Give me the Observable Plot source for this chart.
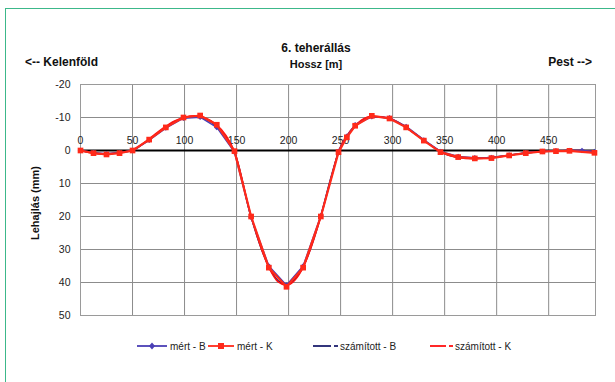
<!DOCTYPE html>
<html><head><meta charset="utf-8">
<script src="https://cdn.jsdelivr.net/npm/d3@7"></script>
<script src="https://cdn.jsdelivr.net/npm/@observablehq/plot@0.6"></script>
<style>
body{margin:0;background:#fff;}
#wrap{position:relative;width:615px;height:382px;overflow:hidden;}
#border{position:absolute;left:5px;top:8px;width:620px;height:390px;border-left:1.5px solid #3cb88a;border-top:1.5px solid #3cb88a;}
svg{font-family:"Liberation Sans",Arial,sans-serif;}
</style></head>
<body><div id="wrap"><div id="border"></div><div id="chart" style="position:absolute;left:0;top:0"></div></div>
<script>
const title = "6. teherállás";
const xTitle = "Hossz [m]";
const leftLabel = "<-- Kelenföld";
const rightLabel = "Pest -->";
const yTitle = "Lehajlás (mm)";
const xTicks = [0, 50, 100, 150, 200, 250, 300, 350, 400, 450];
const yTicks = [-20, -10, 0, 10, 20, 30, 40, 50];
const seriesNames = ["mért - B", "mért - K", "számított - B", "számított - K"];

// measured K (red squares)
const xK = [0, 12.5, 25, 37.5, 50, 66, 82, 99, 115, 131, 148, 164, 181, 198, 214, 231, 248, 256, 264, 280, 297, 313, 330, 346, 363, 379, 395, 412, 428, 444, 457, 470, 494];
const yK = [0, 0.8, 1.2, 0.8, 0, -3.3, -7, -10, -10.6, -7.8, 0.2, 20, 35.5, 41.3, 35.5, 20, 0.5, -4, -7.5, -10.5, -9.7, -7, -3, 0.5, 2, 2.4, 2.3, 1.5, 0.8, 0.3, 0.2, 0.1, 0.7];
// measured B (blue diamonds)
const xB = [0, 12.5, 25, 37.5, 50, 66, 82, 99, 115, 131, 148, 164, 181, 198, 214, 231, 248, 256, 264, 280, 297, 313, 330, 346, 363, 379, 395, 412, 428, 444, 457, 470, 482, 494];
const yB = [0, 0.6, 1.0, 0.7, 0, -3.1, -6.8, -9.8, -10.1, -7.0, 0.5, 20.3, 35.0, 40.8, 35.0, 19.8, 0.2, -4.3, -7.8, -10.2, -9.9, -7.3, -3.2, 0.3, 1.8, 2.2, 2.1, 1.4, 0.7, 0.3, 0.1, 0, 0, 0.3];
// calculated
const xC = [0, 10, 20, 30, 40, 50, 60, 70, 80, 90, 100, 110, 120, 130, 140, 148, 164, 181, 190, 198, 206, 214, 231, 240, 248, 260, 270, 280, 290, 300, 310, 320, 330, 340, 350, 360, 370, 380, 390, 400, 410, 420, 430, 440, 450, 460, 470, 480, 494];
const yCB = [0, 0.6, 1.0, 0.9, 0.5, 0, -2, -4.3, -6.6, -8.7, -9.9, -10.2, -9.5, -7.5, -4.0, 0.5, 20.2, 35.2, 39.5, 40.5, 39, 35.2, 19.8, 9, 0.5, -6, -9, -10.2, -10.1, -9.3, -7.6, -5.4, -3.1, -0.9, 1, 1.9, 2.3, 2.4, 2.2, 1.9, 1.5, 1.1, 0.7, 0.4, 0.2, 0.1, 0, 0, 0.3];
const yCK = [0, 0.7, 1.1, 0.9, 0.5, 0, -2.1, -4.5, -6.9, -8.9, -10.1, -10.5, -9.9, -8.0, -4.5, 0.3, 20, 35.4, 39.8, 40.8, 39.3, 35.4, 20, 9.5, 0.4, -6.2, -9.2, -10.4, -10.2, -9.4, -7.7, -5.4, -3.1, -0.9, 1, 2.0, 2.4, 2.5, 2.3, 2.0, 1.6, 1.1, 0.7, 0.4, 0.2, 0.1, 0, 0, 0.3];

const dK = xK.map((x, i) => ({x, y: yK[i]}));
const dB = xB.map((x, i) => ({x, y: yB[i]}));
const dCB = xC.map((x, i) => ({x, y: yCB[i]}));
const dCK = xC.map((x, i) => ({x, y: yCK[i]}));

const cMB = "#4a3fb5", cMK = "#ff2a1a", cCB = "#1c1f6e", cCK = "#ff1010";

const chart = Plot.plot({
  width: 615, height: 382,
  marginLeft: 80, marginRight: 20, marginTop: 84, marginBottom: 67,
  style: {fontFamily: "Liberation Sans, Arial, sans-serif", background: "transparent"},
  x: {domain: [0, 495], axis: null},
  y: {domain: [-20, 50], reverse: true, axis: null},
  marks: [
    Plot.gridX(xTicks, {stroke: "#8c8c8c", strokeOpacity: 1, strokeWidth: 1}),
    Plot.gridY(yTicks, {stroke: "#8c8c8c", strokeOpacity: 1, strokeWidth: 1}),
    Plot.frame({stroke: "#9a9a9a"}),
    Plot.ruleY([0], {stroke: "#000", strokeWidth: 2}),
    Plot.text(xTicks, {x: d => d, y: 0, dy: -10, text: d => String(d), fontSize: 10.5, fill: "#222"}),
    Plot.axisY({ticks: yTicks, tickSize: 0, tickPadding: 10, fontSize: 10.5, label: null, color: "#222", tickFormat: d => String(d)}),
    Plot.line(dCB, {x: "x", y: "y", stroke: cCB, strokeWidth: 1.5, curve: "monotone-x"}),
    Plot.line(dCK, {x: "x", y: "y", stroke: cCK, strokeWidth: 1.5, curve: "monotone-x"}),
    Plot.line(dB, {x: "x", y: "y", stroke: cMB, strokeWidth: 1.5}),
    Plot.dot(dB, {x: "x", y: "y", symbol: "diamond2", r: 2.5, fill: cMB, stroke: "none"}),
    Plot.line(dK, {x: "x", y: "y", stroke: cMK, strokeWidth: 2.2}),
    Plot.dot(dK, {x: "x", y: "y", symbol: "square", r: 3.2, fill: cMK, stroke: "none"})
  ]
});
document.getElementById("chart").appendChild(chart);

const svg = d3.select(chart);
const t = svg.append("g").attr("font-weight", "bold").attr("fill", "#111");
t.append("text").attr("x", 316).attr("y", 52).attr("text-anchor", "middle").attr("font-size", 12).text(title);
t.append("text").attr("x", 316).attr("y", 68).attr("text-anchor", "middle").attr("font-size", 11).text(xTitle);
t.append("text").attr("x", 25).attr("y", 66).attr("text-anchor", "start").attr("font-size", 12).text(leftLabel);
t.append("text").attr("x", 592).attr("y", 66).attr("text-anchor", "end").attr("font-size", 12).text(rightLabel);
t.append("text").attr("transform", "translate(39,203) rotate(-90)").attr("text-anchor", "middle").attr("font-size", 11).text(yTitle);

// legend
const lg = svg.append("g").attr("font-size", 10).attr("fill", "#222").attr("text-anchor", "start");
const items = [
  {x: 137, w: 30, c: cMB, sym: "diamond", dash: false, name: seriesNames[0]},
  {x: 208, w: 26, c: cMK, sym: "square", dash: false, name: seriesNames[1]},
  {x: 313, w: 18, c: cCB, sym: null, dash: true, name: seriesNames[2]},
  {x: 430, w: 16, c: cCK, sym: null, dash: true, name: seriesNames[3]}
];
const ly = 346;
items.forEach(it => {
  lg.append("line").attr("x1", it.x).attr("x2", it.x + it.w).attr("y1", ly).attr("y2", ly).attr("stroke", it.c).attr("stroke-width", 1.8);
  const cx = it.x + it.w / 2;
  let tx = it.x + it.w + 3;
  if (it.dash) {
    lg.append("line").attr("x1", it.x + it.w + 3).attr("x2", it.x + it.w + 7).attr("y1", ly).attr("y2", ly).attr("stroke", it.c).attr("stroke-width", 1.8);
    tx = it.x + it.w + 9;
  }
  if (it.sym === "square") lg.append("rect").attr("x", cx - 3).attr("y", ly - 3).attr("width", 6).attr("height", 6).attr("fill", it.c);
  if (it.sym === "diamond") lg.append("path").attr("d", `M${cx},${ly-3.5}L${cx+3},${ly}L${cx},${ly+3.5}L${cx-3},${ly}Z`).attr("fill", it.c);
  lg.append("text").attr("x", tx).attr("y", ly + 3.6).attr("text-anchor", "start").text(it.name);
});
</script>
</body></html>
